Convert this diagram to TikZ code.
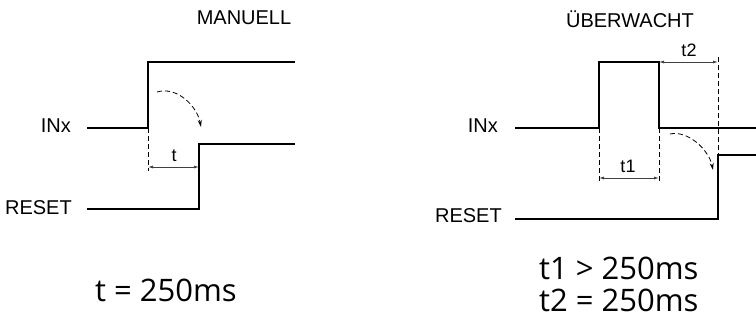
\documentclass[tikz,border=0pt]{standalone}
\usepackage{fontspec}
\setmainfont{Liberation Sans}
\newfontfamily\notefont{Open Sans}
\usetikzlibrary{arrows.meta, positioning}

\begin{document}
\begin{tikzpicture}[
    x=1pt, y=-1pt,
    every node/.style={font=\fontsize{20}{24}\selectfont, inner sep=0pt},
    lbl/.style={anchor=base east},
    head/.style={anchor=base},
    small/.style={font=\fontsize{18}{20}\selectfont, anchor=base},
    note/.style={font=\notefont\fontsize{31}{35}\selectfont, anchor=base west},
    sig/.style={line width=1.8pt, line join=miter},
    guide/.style={line width=0.8pt, dash pattern=on 5pt off 3pt},
    dim/.style={{Latex[length=5pt,width=3pt]}-{Latex[length=5pt,width=3pt]}, line width=0.8pt, black!75},
    delay/.style={-{Stealth[length=7pt,width=4pt]}, line width=0.8pt, dash pattern=on 5pt off 3pt}
]
\useasboundingbox (0,0) rectangle (756,320);

% manuell
\node[head] (man) at (244,25) {MANUELL};
\node[lbl] (inA) at (71,133) {INx};
\node[lbl] (rsA) at (72,215) {RESET};

\coordinate (a0) at (87,128);  \coordinate (a1) at (148,128);
\coordinate (a2) at (148,62);  \coordinate (a3) at (295,62);
\coordinate (b0) at (87,209);  \coordinate (b1) at (199,209);
\coordinate (b2) at (199,144); \coordinate (b3) at (295,144);
\draw[sig] (a0) -- (a1) -- (a2) -- (a3);
\draw[sig] (b0) -- (b1) -- (b2) -- (b3);

\coordinate (ga) at (148,171);
\coordinate (da) at (148,167); \coordinate (db) at (199,167);
\draw[guide] (a1) -- (ga);
\draw[dim] (da) -- (db);
\node[small] (tA) at (174,162) {t};
\coordinate (ca) at (157,92); \coordinate (cb) at (201,127);
\draw[delay] (ca) .. controls (177,86) and (197,106) .. (cb);

\node[note] (noteA) at (95,302) {t = 250ms};

% ueberwacht
\node[head] (ueb) at (630,28) {ÜBERWACHT};
\node[lbl] (inB) at (498,133) {INx};
\node[lbl] (rsB) at (502,223) {RESET};

\coordinate (p0) at (515,128); \coordinate (p1) at (599,128);
\coordinate (p2) at (599,62);  \coordinate (p3) at (659,62);
\coordinate (p4) at (659,128); \coordinate (p5) at (756,128);
\coordinate (q0) at (515,219); \coordinate (q1) at (718,219);
\coordinate (q2) at (718,155); \coordinate (q3) at (756,155);
\draw[sig] (p0) -- (p1) -- (p2) -- (p3) -- (p4) -- (p5);
\draw[sig] (q0) -- (q1) -- (q2) -- (q3);

\coordinate (g1) at (599,181); \coordinate (g2) at (659,181);
\coordinate (g3) at (718,57);
\draw[guide] (p1) -- (g1);
\draw[guide] (p4) -- (g2);
\draw[guide] (g3) -- (q2);
\coordinate (d1) at (599,178); \coordinate (d2) at (659,178);
\coordinate (d3) at (718,62);
\draw[dim] (d1) -- (d2);
\draw[dim] (p3) -- (d3);
\node[small] (t1) at (628,173) {t1};
\node[small] (t2) at (689,57) {t2};
\coordinate (cc) at (670,134); \coordinate (cd) at (713,170);
\draw[delay] (cc) .. controls (688,130) and (709,150) .. (cd);

\node[note] (noteB) at (539,280) {t1 > 250ms};
\node[note] (noteC) at (539,312) {t2 = 250ms};
\end{tikzpicture}
\end{document}
